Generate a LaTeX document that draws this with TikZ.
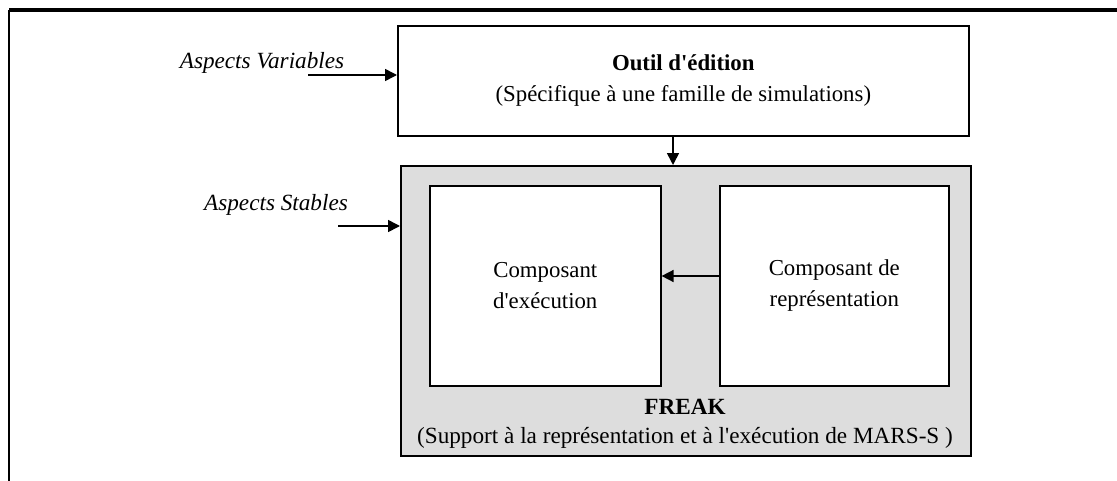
\documentclass[tikz,border=0pt]{standalone}
\usepackage{fontspec}
\setmainfont{Liberation Serif}[Ligatures=TeXOff]
\usetikzlibrary{arrows.meta}
\definecolor{boxgray}{HTML}{DDDDDD}
\tikzset{
  px/.style={x=0.5pt,y=-0.5pt},
  blk/.style={draw=black,line width=0.8pt,fill=white,anchor=north west,inner sep=0pt,align=center,
     font=\fontsize{11.4}{15.5}\selectfont},
  arr/.style={draw=black,line width=0.8pt,-{Triangle[length=6pt,width=6pt]}},
  lbl/.style={font=\fontsize{11.6}{15.5}\selectfont\itshape,inner sep=0pt},
  txt/.style={font=\fontsize{11.6}{14.5}\selectfont,inner sep=0pt,align=center},
}
\begin{document}
\begin{tikzpicture}[px]
\useasboundingbox (0,0) rectangle (1117,481);
\fill[white] (0,0) rectangle (1117,481);
% frame
\draw[line width=1.6pt] (9,10) -- (1117,10);
\draw[line width=0.8pt] (9,10) -- (9,481);
% top box
\node[blk,minimum width=285.5pt,minimum height=55pt] (outil) at (397,25)
  {\textbf{Outil d'édition}\\(Spécifique à une famille de simulations)};
% gray box
\node[blk,fill=boxgray,minimum width=285pt,minimum height=145pt] (freak) at (400,165) {};
\node[blk,minimum width=115.5pt,minimum height=100pt] (exec) at (429,185)
  {Composant\\d'exécution};
\node[blk,minimum width=114.5pt,minimum height=100pt] (repr) at (719,185)
  {Composant de\\représentation};
\node[txt] (freaklbl) at (685,424)
  {\textbf{FREAK}\\(Support à la représentation et à l'exécution de MARS-S )};
% side labels
\node[lbl] (av) at (262,63) {Aspects Variables};
\node[lbl] (as) at (276,205) {Aspects Stables};
\coordinate (avs) at (308,75);
\coordinate (ass) at (338,226);
% arrows
\draw[arr] (avs) -- (avs -| outil.west);
\draw[arr] (ass) -- (ass -| freak.west);
\draw[arr] (outil.south -| 673,0) -- (freak.north -| 673,0);
\draw[arr] (repr.west |- 0,276) -- (exec.east |- 0,276);
\end{tikzpicture}
\end{document}
